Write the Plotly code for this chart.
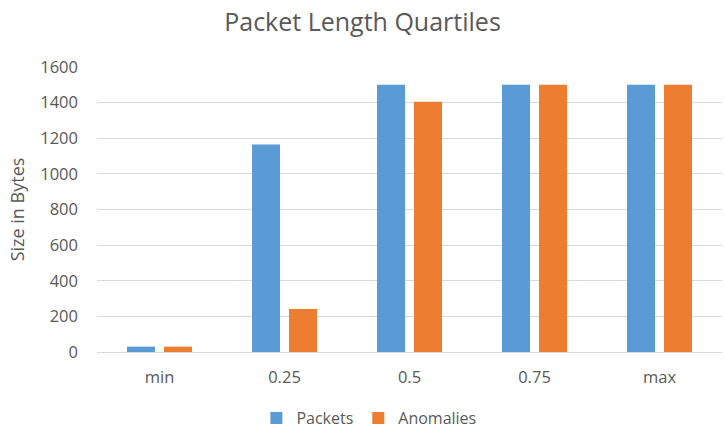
import plotly.graph_objects as go

# Packet length quartile summary (bytes)
categories = ["min", "0.25", "0.5", "0.75", "max"]
packets = [30, 1165, 1500, 1500, 1500]
anomalies = [30, 242, 1405, 1500, 1500]
y_ticks = [0, 200, 400, 600, 800, 1000, 1200, 1400, 1600]

text_color = "#595959"
font_family = "Open Sans, Liberation Sans, sans-serif"

fig = go.Figure()
fig.add_trace(go.Bar(name="Packets", x=categories, y=packets,
                     marker=dict(color="#5B9BD5", line=dict(width=0))))
fig.add_trace(go.Bar(name="Anomalies", x=categories, y=anomalies,
                     marker=dict(color="#ED7D31", line=dict(width=0))))

fig.update_layout(
    width=725, height=445,
    margin=dict(l=97, r=3, t=67, b=93, autoexpand=False),
    paper_bgcolor="white", plot_bgcolor="white",
    barmode="group", bargap=0.408, bargroupgap=0.243,
    title=dict(text="Packet Length Quartiles", x=0.5, xanchor="center",
               xref="container", y=0.95, yanchor="middle",
               font=dict(family=font_family, size=25, color=text_color)),
    font=dict(family=font_family, size=16, color=text_color),
    xaxis=dict(showgrid=False, showline=True, linecolor="#D9D9D9", linewidth=1,
               ticks="", tickfont=dict(size=16.5, color=text_color), ticklabelstandoff=10),
    yaxis=dict(range=[0, 1600], tickvals=y_ticks, showgrid=True,
               gridcolor="#D9D9D9", gridwidth=1, zeroline=False, showline=False,
               tickfont=dict(size=16.5, color=text_color), ticklabelstandoff=18,
               title=dict(text="Size in Bytes", standoff=10,
                          font=dict(size=18, color=text_color))),
    legend=dict(orientation="h", x=0.435, xanchor="center",
                y=-0.232, yanchor="middle",
                font=dict(size=16, color=text_color), itemwidth=30),
)

fig.write_html("out.html")
